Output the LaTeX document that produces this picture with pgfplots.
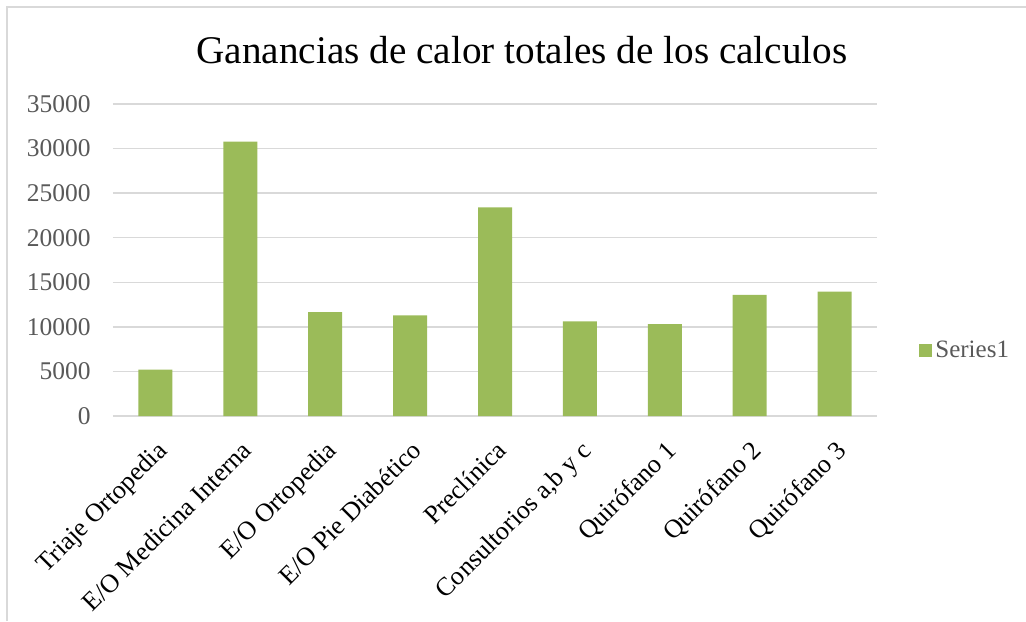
\documentclass[border=0pt]{standalone}
\usepackage{pgfplots}
\pgfplotsset{compat=1.18}
\usepackage{fontspec}
\setmainfont{Liberation Serif}
\definecolor{barg}{HTML}{9BBB59}
\definecolor{gridg}{HTML}{D9D9D9}
\definecolor{txtg}{HTML}{595959}

\begin{document}
\begin{tikzpicture}
% page = 1026x621 px at 0.5pt/px, plot area SW corner at origin
\useasboundingbox (-56.5pt,-102.5pt) rectangle (456.5pt,208pt);
\draw[gridg, line width=1pt] (-53pt,-102.5pt) -- (-53pt,204.5pt) -- (456.5pt,204.5pt);
\begin{axis}[
    scale only axis,
    width=382pt, height=156pt,
    ybar, bar width=17pt,
    xmin=-0.5, xmax=8.5,
    ymin=0, ymax=35000,
    ytick={0,5000,...,35000},
    xtick=data,
    xticklabels={Triaje Ortopedia, E/O Medicina Interna, E/O Ortopedia, E/O Pie Diabético, Preclínica, {Consultorios a,b y c}, Quirófano 1, Quirófano 2, Quirófano 3},
    scaled y ticks=false,
    /pgf/number format/1000 sep={},
    /pgf/number format/assume math mode=true,
    ymajorgrids,
    grid style={gridg, line width=0.75pt},
    axis line style={draw=none},
    major tick length=0pt,
    yticklabel shift=11pt,
    yticklabel style={anchor=east, inner sep=0pt, text=txtg, font=\fontsize{12.75}{14}\selectfont},
    xticklabel shift=11.5pt,
    xticklabel style={rotate=45, anchor=north east, inner sep=0pt, text=black, font=\fontsize{13}{15}\selectfont},
    legend style={at={(1.055,0.21)}, anchor=west, draw=none, fill=none, inner sep=0pt,
        font=\fontsize{12.5}{14}\selectfont, text=txtg,
        nodes={inner sep=1.5pt}},
    legend image code/.code={\fill[#1] (0pt,-3.25pt) rectangle (6.5pt,3.25pt);},
]
\addplot[fill=barg, draw=none] coordinates {
    (0,5190) (1,30770) (2,11650) (3,11280) (4,23400)
    (5,10610) (6,10310) (7,13600) (8,13940)
};
\addlegendentry{Series1}
\end{axis}
\node[anchor=base, font=\fontsize{19.6}{22}\selectfont] at (204.5pt,176pt) {Ganancias de calor totales de los calculos};
\end{tikzpicture}
\end{document}
